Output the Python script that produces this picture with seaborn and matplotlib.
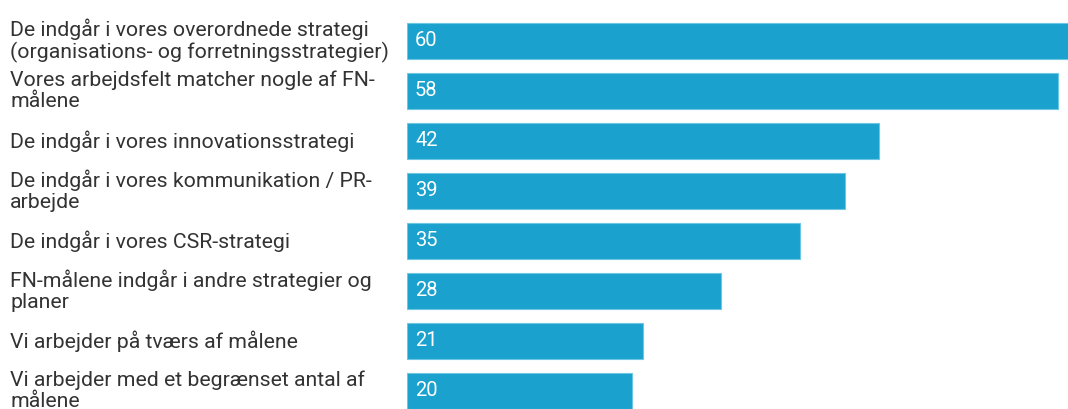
import matplotlib
matplotlib.use("Agg")
import matplotlib.pyplot as plt
import matplotlib.transforms as mtransforms
import seaborn as sns
import pandas as pd

# data
labels = [
    "De indgår i vores overordnede strategi\n(organisations- og forretningsstrategier)",
    "Vores arbejdsfelt matcher nogle af FN-\nmålene",
    "De indgår i vores innovationsstrategi",
    "De indgår i vores kommunikation / PR-\narbejde",
    "De indgår i vores CSR-strategi",
    "FN-målene indgår i andre strategier og\nplaner",
    "Vi arbejder på tværs af målene",
    "Vi arbejder med et begrænset antal af\nmålene",
]
values = [60, 58, 42, 39, 35, 28, 21, 20]

BAR_COLOR = "#1aa1cd"
TEXT_COLOR = "#333333"

sns.set_style("white")
plt.rcParams["font.family"] = ["Roboto", "DejaVu Sans"]

df = pd.DataFrame({"label": labels, "value": values})

fig = plt.figure(figsize=(10.68, 4.09), dpi=100)
ax = fig.add_axes([407 / 1068, 0, 1 - 407 / 1068, 1])

sns.barplot(data=df, x="value", y="label", orient="h", color=BAR_COLOR,
            saturation=1, width=0.72, edgecolor="#6cc6e4", linewidth=0.8, ax=ax)

ax.set_xlim(0, 661 / 11.23)
ax.set_ylim((409 - 41) / 50, -41 / 50)
ax.set_xticks([])
ax.set_yticks([])
ax.set_xlabel("")
ax.set_ylabel("")
sns.despine(ax=ax, left=True, bottom=True)

# category labels on the left, left-aligned at the figure edge
trans = mtransforms.blended_transform_factory(fig.transFigure, ax.transData)
for i, lab in enumerate(labels):
    ax.text(10 / 1068, i, lab, transform=trans, ha="left", va="center",
            fontsize=15.3, color=TEXT_COLOR, linespacing=1.12, clip_on=False)

# value labels inside bars
offset = mtransforms.offset_copy(ax.transData, fig=fig, x=8, y=0, units="dots")
for i, v in enumerate(values):
    ax.text(0, i, str(v), transform=offset, ha="left", va="center",
            fontsize=14.5, color="white")

fig.savefig("out.png", dpi=100)
